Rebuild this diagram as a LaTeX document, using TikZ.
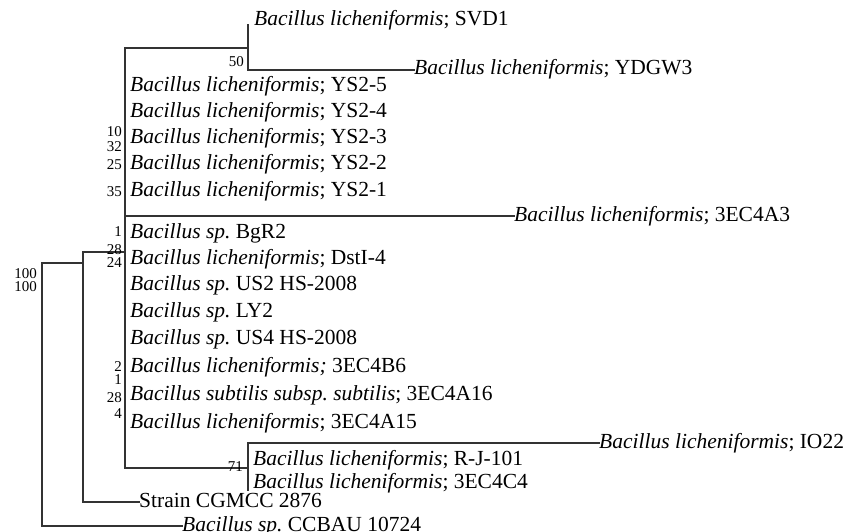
\documentclass[tikz,border=0pt]{standalone}
\usepackage{fontspec}
\setmainfont{Liberation Serif}
\frenchspacing
\begin{document}
\begin{tikzpicture}[x=1pt,y=-1pt,
  br/.style={line width=1.9pt, draw=black!80, line cap=rect},
  leaf/.style={anchor=west, inner sep=0pt, text height=15pt, text depth=5pt, font=\fontsize{21.5}{24}\selectfont},
  bs/.style={anchor=east, inner sep=0pt, text height=10pt, text depth=0pt, font=\fontsize{15}{15}\selectfont}]
\useasboundingbox (0,0) rectangle (846,532);
% internal nodes
\coordinate (Rt) at (42,263); \coordinate (Rb) at (42,526);
\coordinate (At) at (83,252); \coordinate (Am) at (83,263); \coordinate (Ab) at (83,502);
\coordinate (Bt) at (125,48); \coordinate (Bm) at (125,252); \coordinate (Bx) at (125,216); \coordinate (Bb) at (125,468);
\coordinate (Ct) at (248,25); \coordinate (Cm) at (248,48); \coordinate (Cb) at (248,70);
\coordinate (Dt) at (248,443); \coordinate (Dm) at (248,468); \coordinate (Db) at (248,490);
% leaves
\node[leaf] (svd1) at (254,21) {\textit{Bacillus licheniformis}; SVD1};
\node[leaf] (ydgw3) at (414,70) {\textit{Bacillus licheniformis}; YDGW3};
\node[leaf] (ys5) at (130,87) {\textit{Bacillus licheniformis}; YS2-5};
\node[leaf] (ys4) at (130,113) {\textit{Bacillus licheniformis}; YS2-4};
\node[leaf] (ys3) at (130,139) {\textit{Bacillus licheniformis}; YS2-3};
\node[leaf] (ys2) at (130,165) {\textit{Bacillus licheniformis}; YS2-2};
\node[leaf] (ys1) at (130,191) {\textit{Bacillus licheniformis}; YS2-1};
\node[leaf] (a3) at (514,216) {\textit{Bacillus licheniformis}; 3EC4A3};
\node[leaf] (bgr2) at (130,233) {\textit{Bacillus sp.} BgR2};
\node[leaf] (dst) at (130,259) {\textit{Bacillus licheniformis}; DstI-4};
\node[leaf] (us2) at (130,285) {\textit{Bacillus sp.} US2 HS-2008};
\node[leaf] (ly2) at (130,312) {\textit{Bacillus sp.} LY2};
\node[leaf] (us4) at (130,339) {\textit{Bacillus sp.} US4 HS-2008};
\node[leaf] (b6) at (130,367) {\textit{Bacillus licheniformis;} 3EC4B6};
\node[leaf] (a16) at (130,395) {\textit{Bacillus subtilis subsp. subtilis}; 3EC4A16};
\node[leaf] (a15) at (130,423) {\textit{Bacillus licheniformis}; 3EC4A15};
\node[leaf] (io22) at (599,443) {\textit{Bacillus licheniformis}; IO22};
\node[leaf] (rj) at (253,460) {\textit{Bacillus licheniformis}; R-J-101};
\node[leaf] (c4) at (253,483) {\textit{Bacillus licheniformis}; 3EC4C4};
\node[leaf] (strain) at (139,502) {Strain CGMCC 2876};
\node[leaf] (ccbau) at (182,526) {\textit{Bacillus sp.} CCBAU 10724};
% branches
\draw[br] (Rt) -- (Rb);
\draw[br] (Rt) -- (Am);
\draw[br] (Rb) -- (ccbau.west);
\draw[br] (At) -- (Ab);
\draw[br] (At) -- (Bm);
\draw[br] (Ab) -- (strain.west);
\draw[br] (Bt) -- (Bb);
\draw[br] (Bt) -- (Cm);
\draw[br] (Bx) -- (a3.west);
\draw[br] (Bb) -- (Dm);
\draw[br] (Ct) -- (Cb);
\draw[br] (Cb) -- (ydgw3.west);
\draw[br] (Dt) -- (Db);
\draw[br] (Dt) -- (io22.west);
% bootstrap values
\node[bs] (v50) at (244,62) {50};
\node[bs] (v71) at (243,466) {71};
\node[bs] (v100a) at (37,273) {100};
\node[bs] (v100b) at (37,286) {100};
\node[bs] (v10) at (122,132) {10};
\node[bs] (v32) at (122,147) {32};
\node[bs] (v25) at (122,164) {25};
\node[bs] (v35) at (122,191) {35};
\node[bs] (v1a) at (122,231) {1};
\node[bs] (v28a) at (122,249) {28};
\node[bs] (v24) at (122,262) {24};
\node[bs] (v2) at (122,366) {2};
\node[bs] (v1b) at (122,379) {1};
\node[bs] (v28b) at (122,397) {28};
\node[bs] (v4) at (122,413) {4};
\end{tikzpicture}
\end{document}
